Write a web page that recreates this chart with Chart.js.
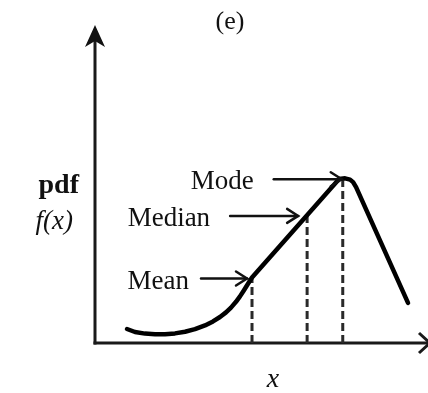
<!DOCTYPE html>
<html>
<head>
<meta charset="utf-8">
<script src="https://cdn.jsdelivr.net/npm/chart.js@4/dist/chart.umd.min.js"></script>
<style>
html,body{margin:0;padding:0;background:#fff;}
#c{display:block;}
</style>
</head>
<body>
<canvas id="c" width="428" height="393"></canvas>
<script>
// ---- data (arbitrary units, x 0..100, y 0..100) ----
const curveX = [9.61, 12.01, 15.02, 18.02, 21.02, 24.02, 27.03, 30.03, 33.03, 35.44, 37.54, 39.34, 40.84, 42.34, 43.54, 44.74, 45.95, 47.15, 73.3, 75.1, 76.6, 77.5, 78.4, 94.0];
const curveY = [4.47, 3.51, 3.00, 2.81, 2.81, 3.07, 3.58, 4.41, 5.62, 6.90, 8.31, 9.78, 11.31, 13.16, 14.89, 16.87, 18.91, 20.93, 52.4, 52.6, 52.2, 51.4, 49.8, 12.8];
const statNames = ['Mean', 'Median', 'Mode'];
const statX = [47.15, 63.7, 74.4];
const statY = [20.93, 40.6, 52.0];
const titleText = '(e)';
const yLabelTop = 'pdf';
const yLabelBottom = 'f(x)';
const xLabel = 'x';

// ---- layout (pixels) ----
const arrowLayout = [
  {len: 46, endDx: -5, dy: 1, gap: 12},
  {len: 68, endDx: -9, dy: 0, gap: 20},
  {len: 68, endDx: -1, dy: -1, gap: 20}
];
const FONT = '"Liberation Serif", "Times New Roman", serif';

const curveData = curveX.map((x, i) => ({x: x, y: curveY[i]}));
const dashSets = statX.map((x, i) => ({
  data: [{x: x, y: 0}, {x: x, y: statY[i]}],
  borderColor: '#2a2a2a',
  borderWidth: 3,
  borderDash: [8, 4],
  pointRadius: 0,
  showLine: true,
  fill: false
}));

function arrowHead(ctx, x, y, ang, len, half) {
  ctx.beginPath();
  ctx.moveTo(x - len * Math.cos(ang) + half * Math.sin(ang), y - len * Math.sin(ang) - half * Math.cos(ang));
  ctx.lineTo(x, y);
  ctx.lineTo(x - len * Math.cos(ang) - half * Math.sin(ang), y - len * Math.sin(ang) + half * Math.cos(ang));
  ctx.stroke();
}

const decor = {
  id: 'decor',
  beforeDatasetsDraw(chart) {
    const ctx = chart.ctx, xs = chart.scales.x, ys = chart.scales.y;
    const x0 = xs.getPixelForValue(0), y0 = ys.getPixelForValue(0);
    const yTop = ys.getPixelForValue(100), xRight = xs.getPixelForValue(100);
    ctx.save();
    ctx.strokeStyle = '#1a1a1a';
    ctx.fillStyle = '#111';
    ctx.lineWidth = 3;
    ctx.lineCap = 'butt';
    // y axis
    ctx.beginPath();
    ctx.moveTo(x0, y0 + 1.5);
    ctx.lineTo(x0, yTop + 10);
    ctx.stroke();
    // y arrow head (stealth)
    ctx.beginPath();
    ctx.moveTo(x0, yTop - 5);
    ctx.lineTo(x0 + 10, yTop + 17);
    ctx.lineTo(x0, yTop + 11);
    ctx.lineTo(x0 - 10, yTop + 17);
    ctx.closePath();
    ctx.fill();
    // x axis
    ctx.beginPath();
    ctx.moveTo(x0 - 1.5, y0);
    ctx.lineTo(xRight, y0);
    ctx.stroke();
    ctx.lineWidth = 3;
    arrowHead(ctx, xRight + 2, y0, 0, 11, 10);
    ctx.restore();
  },
  afterDatasetsDraw(chart) {
    const ctx = chart.ctx, xs = chart.scales.x, ys = chart.scales.y;
    ctx.save();
    ctx.strokeStyle = '#111';
    ctx.fillStyle = '#111';
    ctx.lineWidth = 2.5;
    ctx.lineCap = 'round';
    ctx.font = '27px ' + FONT;
    ctx.textAlign = 'right';
    ctx.textBaseline = 'middle';
    statNames.forEach((name, i) => {
      const L = arrowLayout[i];
      const px = xs.getPixelForValue(statX[i]) + L.endDx;
      const py = ys.getPixelForValue(statY[i]) + L.dy;
      const sx = px - L.len;
      ctx.beginPath();
      ctx.moveTo(sx, py);
      ctx.lineTo(px, py);
      ctx.stroke();
      arrowHead(ctx, px, py, 0, 11, 7);
      ctx.fillText(name, sx - L.gap, py + 3);
    });
    // title
    ctx.textAlign = 'center';
    ctx.font = '26px ' + FONT;
    ctx.fillText(titleText, 230, 22);
    // y label
    ctx.textAlign = 'right';
    ctx.font = 'bold 28px ' + FONT;
    ctx.fillText(yLabelTop, 79, 186);
    ctx.font = 'italic 27px ' + FONT;
    ctx.fillText(yLabelBottom, 73, 222);
    // x label
    ctx.textAlign = 'center';
    ctx.font = 'italic 28px ' + FONT;
    ctx.fillText(xLabel, 273, 380);
    ctx.restore();
  }
};

new Chart(document.getElementById('c'), {
  type: 'scatter',
  data: {
    datasets: [{
      data: curveData,
      borderColor: '#000',
      borderWidth: 4.5,
      pointRadius: 0,
      showLine: true,
      fill: false,
      tension: 0,
      borderJoinStyle: 'round',
      borderCapStyle: 'round'
    }].concat(dashSets)
  },
  options: {
    responsive: false,
    devicePixelRatio: 1,
    animation: false,
    events: [],
    layout: {padding: {left: 95, right: 0, top: 30, bottom: 50}},
    plugins: {legend: {display: false}, tooltip: {enabled: false}, title: {display: false}},
    scales: {
      x: {type: 'linear', min: 0, max: 100, display: false},
      y: {type: 'linear', min: 0, max: 100, display: false}
    },
    clip: false
  },
  plugins: [decor]
});
</script>
</body>
</html>
